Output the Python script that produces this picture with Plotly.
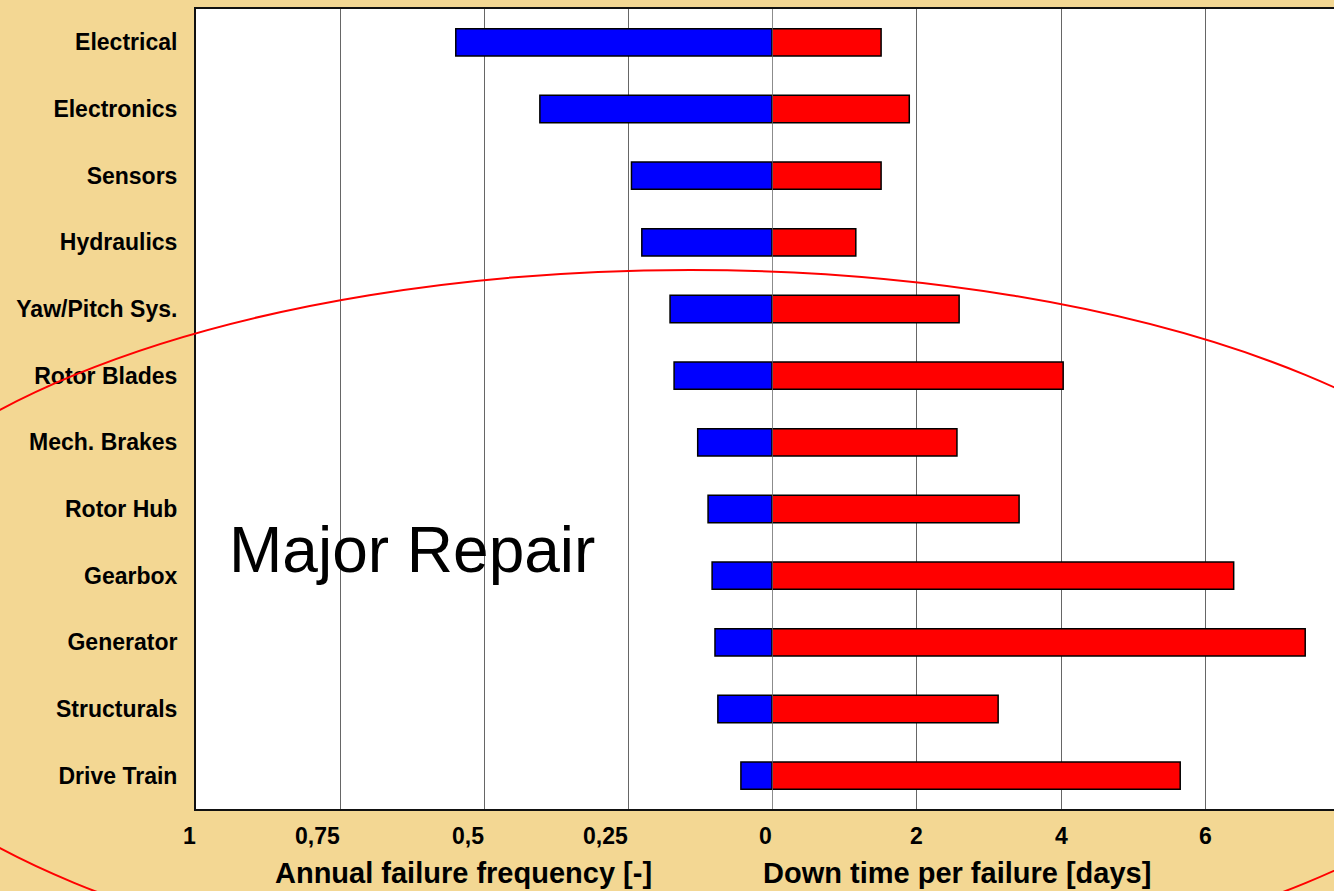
import plotly.graph_objects as go

# components, top to bottom
components = ['Electrical', 'Electronics', 'Sensors', 'Hydraulics', 'Yaw/Pitch Sys.',
              'Rotor Blades', 'Mech. Brakes', 'Rotor Hub', 'Gearbox', 'Generator',
              'Structurals', 'Drive Train']

# annual failure frequency [-]
failure_freq = [0.549, 0.403, 0.244, 0.226, 0.177, 0.170, 0.129, 0.111, 0.104, 0.099, 0.094, 0.054]

# down time per failure [days]
down_time = [1.51, 1.90, 1.51, 1.16, 2.59, 4.03, 2.56, 3.42, 6.39, 7.38, 3.13, 5.65]

freq_ticks = [1, 0.75, 0.5, 0.25, 0]
freq_ticktext = ['1', '0,75', '0,5', '0,25', '0']
days_ticks = [2, 4, 6]

FONT = 'Arial, Liberation Sans, sans-serif'
BG = '#F3D793'

# pixel geometry of the plot area
W, H = 1334, 891
L, R, T, B = 196, 0, 9, 82
split = 576 / (W - L - R)   # where the zero line sits

fig = go.Figure()
fig.add_trace(go.Bar(
    y=components, x=failure_freq, orientation='h',
    xaxis='x', yaxis='y', width=0.41,
    marker=dict(color='#0000FF', line=dict(color='black', width=1.5)),
))
fig.add_trace(go.Bar(
    y=components, x=down_time, orientation='h',
    xaxis='x2', yaxis='y', width=0.41,
    marker=dict(color='#FF0000', line=dict(color='black', width=1.5)),
))

grid = dict(showgrid=True, gridcolor='#666666', gridwidth=1, zeroline=False,
            showline=True, linecolor='#111111', linewidth=2, mirror=True,
            showticklabels=False, ticks='')

fig.update_layout(
    width=W, height=H,
    margin=dict(l=L, r=R, t=T, b=B),
    paper_bgcolor=BG, plot_bgcolor='white',
    showlegend=False,
    font=dict(family=FONT, color='black'),
    xaxis=dict(domain=[0, split], range=[1, 0], tickvals=freq_ticks, anchor='y', **grid),
    xaxis2=dict(domain=[split, 1], range=[0, 562 / 72.25], tickvals=days_ticks, anchor='y', **grid),
    yaxis=dict(categoryorder='array', categoryarray=components, autorange='reversed',
               showgrid=False, zeroline=False, showline=True, linecolor='#111111', linewidth=2,
               ticks='', ticklabelstandoff=12, anchor='x',
               tickfont=dict(family=FONT, size=23, weight='bold', color='black')),
)

# zero line between the two halves
fig.add_shape(type='line', xref='x2', yref='paper', x0=0, x1=0, y0=0, y1=1,
              line=dict(color='#666666', width=1.5))

# x tick labels
label_y = -27 / 800
for v, t in zip(freq_ticks, freq_ticktext):
    fig.add_annotation(x=v, xref='x', y=label_y, yref='paper', text=t, showarrow=False,
                       xanchor='right', yanchor='middle', xshift=2,
                       font=dict(family=FONT, size=23, weight='bold', color='black'))
for v in days_ticks:
    fig.add_annotation(x=v, xref='x2', y=label_y, yref='paper', text=str(v), showarrow=False,
                       xanchor='center', yanchor='middle',
                       font=dict(family=FONT, size=23, weight='bold', color='black'))

# axis titles
for txt, cx in [('Annual failure frequency [-]', 463), ('Down time per failure [days]', 957)]:
    fig.add_annotation(x=(cx - L) / 1138, xref='paper', y=-64 / 800, yref='paper', text=txt,
                       showarrow=False, xanchor='center', yanchor='middle',
                       font=dict(family=FONT, size=29, weight='bold', color='black'))

fig.add_annotation(x=(227 - L) / 1138, xref='paper', y=(809 - 550) / 800, yref='paper',
                   text='Major Repair', showarrow=False, xanchor='left', yanchor='middle',
                   font=dict(family=FONT, size=64, color='black'))

# red ellipse around the major repair items
fig.add_shape(type='circle', xref='paper', yref='paper', layer='above',
              x0=(-181 - L) / 1138, x1=(1561 - L) / 1138,
              y0=(809 - 988) / 800, y1=(809 - 270) / 800,
              line=dict(color='#FF0000', width=2))

fig.write_html('out.html', config={'displayModeBar': False},
               post_script="document.body.style.margin='0';"
                           "document.body.style.background='" + BG + "';")
